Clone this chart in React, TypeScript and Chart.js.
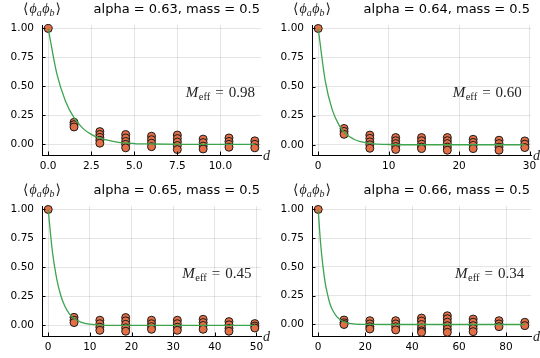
import React, { useEffect, useRef } from 'react';
import { Chart, registerables } from 'chart.js';

Chart.register(...registerables);

// ---------- labels ----------
const alphaValues = ['0.63', '0.64', '0.65', '0.66'];
const massValue = '0.5';
const meffValues = ['0.98', '0.60', '0.45', '0.34'];

// ---------- tick values / labels ----------
const yTicks = [0, 0.25, 0.5, 0.75, 1];
const yTickLabels = ['0.00', '0.25', '0.50', '0.75', '1.00'];
const xTicks1 = [0, 2.5, 5, 7.5, 10];
const xTickLabels1 = ['0.0', '2.5', '5.0', '7.5', '10.0'];
const xTicks2 = [0, 10, 20, 30];
const xTickLabels2 = ['0', '10', '20', '30'];
const xTicks3 = [0, 10, 20, 30, 40, 50];
const xTickLabels3 = ['0', '10', '20', '30', '40', '50'];
const xTicks4 = [0, 20, 40, 60, 80];
const xTickLabels4 = ['0', '20', '40', '60', '80'];

// ---------- panel 1 (alpha 0.63) ----------
const dist1 = [0, 1.5, 3, 4.5, 6, 7.5, 9, 10.5, 12];
const corr1 = [
  [1.0],
  [0.19, 0.17, 0.15],
  [0.11, 0.085, 0.06, 0.035, 0.01],
  [0.085, 0.055, 0.025, 0.0, -0.03],
  [0.07, 0.04, 0.01, -0.02],
  [0.08, 0.05, 0.02, -0.01, -0.045],
  [0.045, 0.015, -0.015, -0.04],
  [0.055, 0.025, 0.0, -0.025],
  [0.03, 0.0, -0.03],
];
const fitD1 = [0, 0.5, 1, 1.5, 2, 2.5, 3, 4, 5, 6, 8, 10, 12];
const fitC1 = [1.0, 0.61, 0.375, 0.23, 0.14, 0.086, 0.053, 0.02, 0.007, 0.003, 0.0004, 0, 0];

// ---------- panel 2 (alpha 0.64) ----------
const dist2 = [0, 3.67, 7.33, 11, 14.67, 18.33, 22, 25.67, 29.33];
const corr2 = [
  [1.0],
  [0.14, 0.115, 0.09],
  [0.083, 0.055, 0.025, 0.0, -0.03],
  [0.062, 0.035, 0.01, -0.015, -0.04],
  [0.062, 0.035, 0.005, -0.02, -0.033],
  [0.062, 0.035, 0.01, -0.02, -0.047],
  [0.047, 0.02, -0.005, -0.033],
  [0.039, 0.01, -0.02, -0.047],
  [0.033, 0.005, -0.024],
];
const fitD2 = [0, 1, 2, 3, 4, 5, 6, 8, 10, 14, 20, 29.33];
const fitC2 = [1.0, 0.55, 0.3, 0.165, 0.09, 0.05, 0.027, 0.008, 0.0025, 0.0002, 0, 0];

// ---------- panel 3 (alpha 0.65) ----------
const dist3 = [0, 6.2, 12.4, 18.6, 24.8, 31, 37.2, 43.4, 49.6];
const corr3 = [
  [1.0],
  [0.07, 0.045, 0.025],
  [0.045, 0.015, -0.015, -0.042],
  [0.068, 0.04, 0.01, -0.02, -0.05],
  [0.045, 0.015, -0.01, -0.033],
  [0.045, 0.015, -0.015, -0.042],
  [0.053, 0.025, 0.0, -0.033],
  [0.033, 0.005, -0.025, -0.05],
  [0.016, -0.005, -0.022],
];
const fitD3 = [0, 1, 2, 3, 4, 5, 6, 8, 10, 13, 18, 30, 49.6];
const fitC3 = [1.0, 0.64, 0.41, 0.26, 0.165, 0.105, 0.067, 0.027, 0.011, 0.003, 0.0003, 0, 0];

// ---------- panel 4 (alpha 0.66) ----------
const dist4 = [0, 11, 22, 33, 44, 55, 66, 77, 88];
const corr4 = [
  [1.0],
  [0.039, 0.015, 0.0],
  [0.033, 0.005, -0.02, -0.039],
  [0.033, 0.005, -0.02, -0.047],
  [0.056, 0.03, 0.0, -0.03, -0.055, -0.068],
  [0.076, 0.05, 0.02, -0.01, -0.04, -0.068],
  [0.047, 0.02, -0.01, -0.035, -0.062],
  [0.033, 0.005, -0.019],
  [0.019, -0.01],
];
const fitD4 = [0, 1, 2, 3, 4, 5, 6, 8, 10, 12, 15, 20, 30, 88];
const fitC4 = [1.0, 0.71, 0.51, 0.36, 0.26, 0.18, 0.13, 0.066, 0.033, 0.017, 0.006, 0.001, 0, 0];

// annotation anchor (data x) and axis lower limits
const annotX = [10, 24, 40.5, 73];
const annotY = 0.45;
const yMins = [-0.092, -0.088, -0.091, -0.1];
const yMax = 1.03;

const panels = [
  { alpha: alphaValues[0], meff: meffValues[0], dist: dist1, corr: corr1, fitD: fitD1, fitC: fitC1, xt: xTicks1, xl: xTickLabels1, yMin: yMins[0], ax: annotX[0] },
  { alpha: alphaValues[1], meff: meffValues[1], dist: dist2, corr: corr2, fitD: fitD2, fitC: fitC2, xt: xTicks2, xl: xTickLabels2, yMin: yMins[1], ax: annotX[1] },
  { alpha: alphaValues[2], meff: meffValues[2], dist: dist3, corr: corr3, fitD: fitD3, fitC: fitC3, xt: xTicks3, xl: xTickLabels3, yMin: yMins[2], ax: annotX[2] },
  { alpha: alphaValues[3], meff: meffValues[3], dist: dist4, corr: corr4, fitD: fitD4, fitC: fitC4, xt: xTicks4, xl: xTickLabels4, yMin: yMins[3], ax: annotX[3] },
];

type Run = { text: string; font: string; dy: number; gapBefore?: number };

function drawRuns(ctx: CanvasRenderingContext2D, runs: Run[], cx: number, baseline: number, color: string) {
  let total = 0;
  const widths = runs.map((r) => {
    ctx.font = r.font;
    const w = ctx.measureText(r.text).width;
    total += w + (r.gapBefore || 0);
    return w;
  });
  let x = cx - total / 2;
  ctx.fillStyle = color;
  ctx.textAlign = 'left';
  ctx.textBaseline = 'alphabetic';
  runs.forEach((r, i) => {
    x += r.gapBefore || 0;
    ctx.font = r.font;
    ctx.fillText(r.text, x, baseline + r.dy);
    x += widths[i];
  });
}

const SERIF = "'Liberation Serif', 'DejaVu Serif', serif";
const SANS = "'DejaVu Sans', sans-serif";

function Panel({ idx, left, top, row }: { idx: number; left: number; top: number; row: number }) {
  const ref = useRef<HTMLCanvasElement>(null);
  useEffect(() => {
    const p = panels[idx];
    const dMax = p.dist[p.dist.length - 1];
    const xMin = -0.03 * dMax;
    const xMax = dMax * 1.03;
    const scatterPts: { x: number; y: number }[] = [];
    p.dist.forEach((d, i) => p.corr[i].forEach((v) => scatterPts.push({ x: d, y: v })));
    const fitPts = p.fitD.map((d, i) => ({ x: d, y: p.fitC[i] }));
    const padTop = row === 0 ? 25 : 27;
    const xAxisH = row === 0 ? 24 : 22;

    const decor = {
      id: 'decor',
      afterDraw(chart: any) {
        const ctx: CanvasRenderingContext2D = chart.ctx;
        const a = chart.chartArea;
        const xs = chart.scales.x;
        const ys = chart.scales.y;
        ctx.save();
        // inward ticks
        ctx.strokeStyle = '#000';
        ctx.lineWidth = 1;
        ctx.beginPath();
        p.xt.forEach((v) => {
          const x = Math.round(xs.getPixelForValue(v)) + 0.5;
          ctx.moveTo(x, a.bottom);
          ctx.lineTo(x, a.bottom - 3.5);
        });
        yTicks.forEach((v) => {
          const y = Math.round(ys.getPixelForValue(v)) + 0.5;
          ctx.moveTo(a.left, y);
          ctx.lineTo(a.left + 3.5, y);
        });
        ctx.stroke();
        // title (right aligned)
        ctx.fillStyle = '#000';
        ctx.font = `13px ${SANS}`;
        ctx.textAlign = 'right';
        ctx.textBaseline = 'alphabetic';
        ctx.fillText(`alpha = ${p.alpha}, mass = ${massValue}`, a.right - 1, a.top - 12);
        // y guide on top of axis
        drawRuns(
          ctx,
          [
            { text: '\u27E8', font: `14px ${SERIF}`, dy: 0 },
            { text: '\u03D5', font: `italic 14px ${SERIF}`, dy: 0, gapBefore: 1 },
            { text: 'a', font: `italic 10px ${SERIF}`, dy: 2.5 },
            { text: '\u03D5', font: `italic 14px ${SERIF}`, dy: 0, gapBefore: 0.5 },
            { text: 'b', font: `italic 10px ${SERIF}`, dy: 2.5 },
            { text: '\u27E9', font: `14px ${SERIF}`, dy: 0, gapBefore: 1 },
          ],
          a.left,
          a.top - 12,
          '#222'
        );
        // x guide
        ctx.fillStyle = '#222';
        ctx.font = `italic 14px ${SERIF}`;
        ctx.textAlign = 'left';
        ctx.fillText('d', a.right + 2, a.bottom + 5);
        // annotation
        const cx = xs.getPixelForValue(p.ax);
        const cy = ys.getPixelForValue(annotY);
        drawRuns(
          ctx,
          [
            { text: 'M', font: `italic 15px ${SERIF}`, dy: 0 },
            { text: 'eff', font: `10.5px ${SERIF}`, dy: 3, gapBefore: 0.5 },
            { text: '=', font: `15px ${SERIF}`, dy: 0, gapBefore: 5 },
            { text: p.meff, font: `15px ${SERIF}`, dy: 0, gapBefore: 5 },
          ],
          cx,
          cy + 5,
          '#222'
        );
        ctx.restore();
      },
    };

    const chart = new Chart(ref.current as HTMLCanvasElement, {
      type: 'scatter',
      data: {
        datasets: [
          {
            data: fitPts,
            showLine: true,
            borderColor: '#3da44d',
            borderWidth: 1.3,
            pointRadius: 0,
            cubicInterpolationMode: 'monotone',
            order: 0,
          } as any,
          {
            data: scatterPts,
            backgroundColor: '#e26f46',
            borderColor: '#1a1a1a',
            borderWidth: 1,
            pointRadius: 4,
            clip: false,
            order: 1,
          } as any,
        ],
      },
      options: {
        responsive: false,
        animation: false,
        events: [],
        layout: { padding: { top: padTop, right: 9, left: 0, bottom: 0 } },
        plugins: { legend: { display: false }, tooltip: { enabled: false }, title: { display: false } },
        scales: {
          x: {
            type: 'linear',
            min: xMin,
            max: xMax,
            afterBuildTicks: (s: any) => {
              s.ticks = p.xt.map((v) => ({ value: v }));
            },
            afterFit: (s: any) => {
              s.height = xAxisH;
              s.paddingLeft = 0;
              s.paddingRight = 0;
            },
            grid: { color: 'rgba(0,0,0,0.1)', lineWidth: 1, drawTicks: false },
            border: { display: true, color: '#000', width: 1 },
            ticks: {
              padding: 5,
              color: '#000',
              font: { family: SANS, size: 10.5 },
              autoSkip: false,
              maxRotation: 0,
              callback: (v: any) => {
                const i = p.xt.indexOf(Number(v));
                return i >= 0 ? p.xl[i] : '';
              },
            },
          },
          y: {
            type: 'linear',
            min: p.yMin,
            max: yMax,
            afterBuildTicks: (s: any) => {
              s.ticks = yTicks.map((v) => ({ value: v }));
            },
            afterFit: (s: any) => {
              s.width = 42;
              s.paddingTop = 0;
              s.paddingBottom = 0;
            },
            grid: { color: 'rgba(0,0,0,0.1)', lineWidth: 1, drawTicks: false },
            border: { display: true, color: '#000', width: 1 },
            ticks: {
              padding: 8,
              color: '#000',
              font: { family: SANS, size: 10.5 },
              callback: (v: any) => {
                const i = yTicks.indexOf(Number(v));
                return i >= 0 ? yTickLabels[i] : '';
              },
            },
          },
        },
      } as any,
      plugins: [decor],
    });
    return () => chart.destroy();
  }, [idx, row]);
  return (
    <canvas
      ref={ref}
      width={270}
      height={179}
      style={{ position: 'absolute', left, top, width: 270, height: 179 }}
    />
  );
}

export default function App() {
  return (
    <div style={{ position: 'fixed', left: 0, top: 0, width: 540, height: 358, background: '#fff', overflow: 'hidden' }}>
      <Panel idx={0} left={0} top={0} row={0} />
      <Panel idx={1} left={270} top={0} row={0} />
      <Panel idx={2} left={0} top={179} row={1} />
      <Panel idx={3} left={270} top={179} row={1} />
    </div>
  );
}
